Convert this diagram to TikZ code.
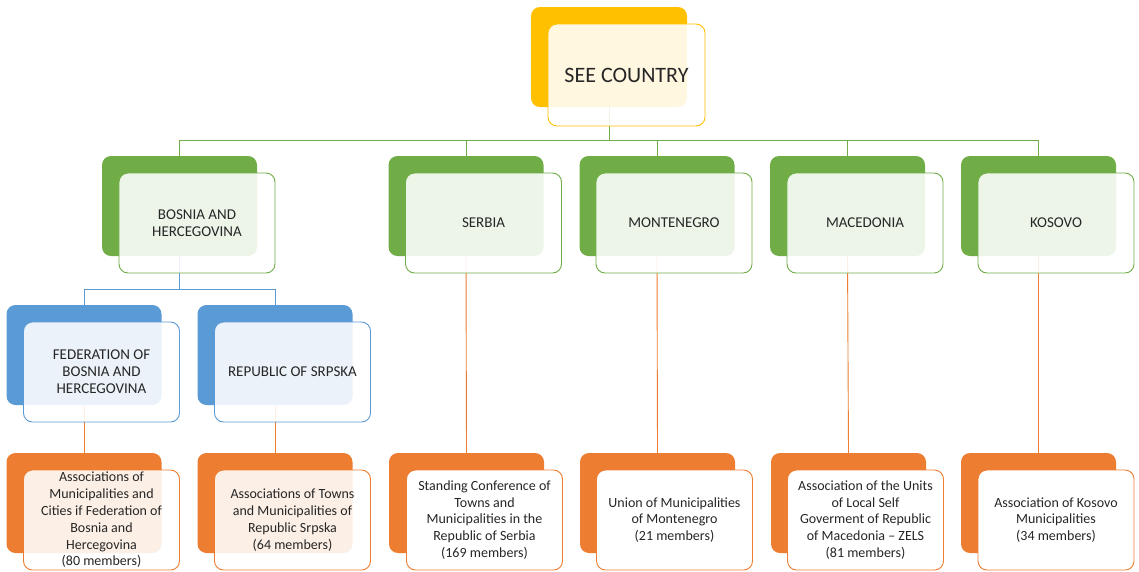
\documentclass[tikz,border=0pt]{standalone}
\usepackage{fontspec}
\setmainfont{Carlito}
\definecolor{cY}{HTML}{FFC000}
\definecolor{cG}{HTML}{70AD47}
\definecolor{cB}{HTML}{5B9BD5}
\definecolor{cO}{HTML}{ED7D31}
\definecolor{txt}{HTML}{262626}
\begin{document}
\begin{tikzpicture}[x=1pt,y=-1pt,
 backbox/.style={fill=#1, rounded corners=9pt, minimum width=155pt, minimum height=100pt, inner sep=0pt, outer sep=0pt},
 frontbox/.style={draw=#1, line width=0.9pt, fill=white, fill opacity=0.88, text opacity=1, draw opacity=1, rounded corners=9pt, minimum width=156pt, minimum height=100pt, inner sep=2pt, outer sep=0pt, align=center, text=txt, font=\fontsize{15}{17}\selectfont},
 solidfront/.style={frontbox=#1, fill opacity=1},
 lowtext/.style={font=\fontsize{14}{16.8}\selectfont},
 link/.style={draw=#1, line width=0.9pt}
]
\fill[white] (0,0) rectangle (1139,571);
\useasboundingbox (0,0) rectangle (1139,571);

% back boxes
\node[backbox=cY, minimum width=156pt] (see-b) at (609,57) {};
\node[backbox=cG] (bos-b) at (179.5,206) {};
\node[backbox=cG] (ser-b) at (466,206) {};
\node[backbox=cG] (mon-b) at (657,206) {};
\node[backbox=cG] (mac-b) at (847.5,206) {};
\node[backbox=cG] (kos-b) at (1038.5,206) {};
\node[backbox=cB] (fed-b) at (84,355) {};
\node[backbox=cB] (srp-b) at (275,355) {};
\node[backbox=cO] (afed-b) at (84,503) {};
\node[backbox=cO] (asrp-b) at (275,503) {};
\node[backbox=cO] (aser-b) at (466.5,503) {};
\node[backbox=cO] (amon-b) at (657.5,503) {};
\node[backbox=cO] (amac-b) at (848.5,503) {};
\node[backbox=cO] (akos-b) at (1038.5,503) {};

% connectors
\coordinate (busG) at (609,140);
\coordinate (busB) at (179.5,289);
\draw[link=cG] (see-b.south) -- (busG);
\draw[link=cG] (busG) -| (bos-b.north);
\draw[link=cG] (busG) -| (ser-b.north);
\draw[link=cG] (busG) -| (mon-b.north);
\draw[link=cG] (busG) -| (mac-b.north);
\draw[link=cG] (busG) -| (kos-b.north);
\draw[link=cB] (bos-b.south) -- (busB);
\draw[link=cB] (busB) -| (fed-b.north);
\draw[link=cB] (busB) -| (srp-b.north);
\draw[link=cO] (fed-b.south) -- (afed-b.north);
\draw[link=cO] (srp-b.south) -- (asrp-b.north);
\draw[link=cO] (ser-b.south) -- (aser-b.north);
\draw[link=cO] (mon-b.south) -- (amon-b.north);
\draw[link=cO] (mac-b.south) -- (amac-b.north);
\draw[link=cO] (kos-b.south) -- (akos-b.north);

% front boxes
\node[frontbox=cY, minimum width=157pt, minimum height=102pt, font=\fontsize{22}{26}\selectfont] (see) at (626.5,75) {SEE COUNTRY};
\node[frontbox=cG] (bos) at (197,223) {BOSNIA AND\\HERCEGOVINA};
\node[frontbox=cG] (ser) at (483.5,223) {SERBIA};
\node[frontbox=cG] (mon) at (674,223) {MONTENEGRO};
\node[frontbox=cG] (mac) at (865,223) {MACEDONIA};
\node[frontbox=cG] (kos) at (1056,223) {KOSOVO};
\node[frontbox=cB] (fed) at (101.5,372) {FEDERATION OF\\BOSNIA AND\\HERCEGOVINA};
\node[frontbox=cB] (srp) at (292.5,372) {REPUBLIC OF SRPSKA};
\node[frontbox=cO, lowtext] (afed) at (101.5,520) {Associations of\\Municipalities and\\Cities if Federation of\\Bosnia and\\Hercegovina\\(80 members)};
\node[frontbox=cO, lowtext] (asrp) at (292.5,520) {Associations of Towns\\and Municipalities of\\Republic Srpska\\(64 members)};
\node[solidfront=cO, lowtext] (aser) at (484.5,520) {Standing Conference of\\Towns and\\Municipalities in the\\Republic of Serbia\\(169 members)};
\node[solidfront=cO, lowtext] (amon) at (674.5,520) {Union of Municipalities\\of Montenegro\\(21 members)};
\node[solidfront=cO, lowtext] (amac) at (865.5,520) {Association of the Units\\of Local Self\\Goverment of Republic\\of Macedonia -- ZELS\\(81 members)};
\node[solidfront=cO, lowtext] (akos) at (1056,520) {Association of Kosovo\\Municipalities\\(34 members)};
\end{tikzpicture}
\end{document}
